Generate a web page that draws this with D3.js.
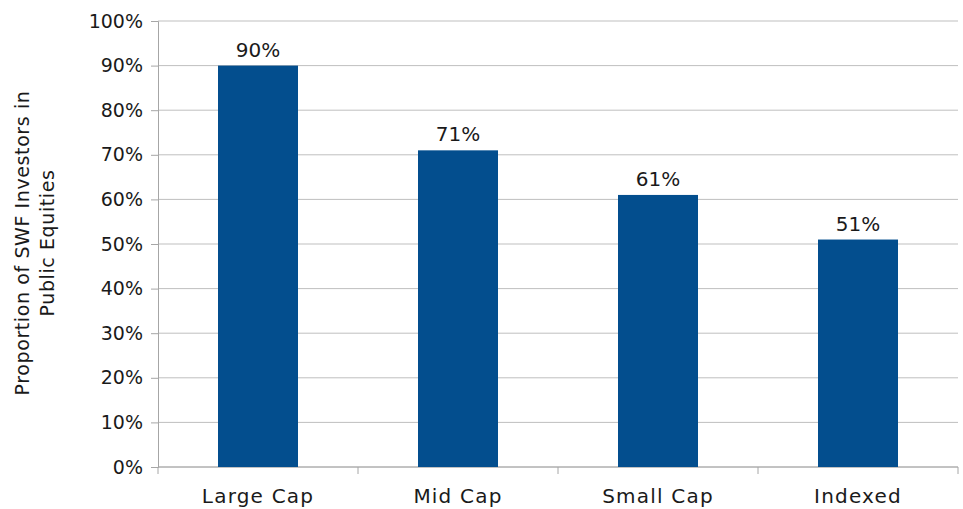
<!DOCTYPE html>
<html>
<head>
<meta charset="utf-8">
<script src="https://cdn.jsdelivr.net/npm/d3@7"></script>
<style>
  body { margin: 0; background: #fff; }
  text { font-family: "DejaVu Sans", sans-serif; fill: #1a1a1a; }
</style>
</head>
<body>
<div id="chart"></div>
<script>
const categories = ["Large Cap", "Mid Cap", "Small Cap", "Indexed"];
const values = [0.90, 0.71, 0.61, 0.51];
const yTicks = [0, 0.1, 0.2, 0.3, 0.4, 0.5, 0.6, 0.7, 0.8, 0.9, 1.0];
const yLabelLines = ["Proportion of SWF Investors in", "Public Equities"];

const width = 963, height = 509;
const margin = { left: 158, right: 5, top: 21, bottom: 42 };
const innerW = 958 - margin.left;
const innerH = 467 - margin.top;

var svg = d3.select("#chart")
    .append("svg")
    .attr("width", width)
    .attr("height", height)
    .append("g")
    .attr("transform", "translate(" + margin.left + "," + margin.top + ")");

var xScale = d3.scaleBand()
    .domain(categories)
    .range([0, innerW])
    .paddingInner(0.6)
    .paddingOuter(0.3);

var yScale = d3.scaleLinear()
    .domain([0, 1])
    .range([innerH, 0]);

// gridlines + y axis
var yAxis = d3.axisLeft(yScale)
    .tickValues(yTicks)
    .tickFormat(d3.format(".0%"))
    .tickSize(7)
    .tickPadding(8);

svg.append("g")
    .attr("class", "grid")
    .selectAll("line")
    .data(yTicks)
    .enter().append("line")
    .attr("x1", 0)
    .attr("x2", innerW)
    .attr("y1", d => yScale(d))
    .attr("y2", d => yScale(d))
    .attr("stroke", "#bfbfbf")
    .attr("stroke-width", 1);

var gy = svg.append("g").call(yAxis);
gy.select(".domain").attr("stroke", "#a6a6a6");
gy.selectAll(".tick line").attr("stroke", "#a6a6a6");
gy.selectAll(".tick text").style("font-size", "19px").attr("fill", "#1a1a1a");

// x axis with boundary ticks
var gx = svg.append("g")
    .attr("transform", "translate(0," + innerH + ")");
gx.append("line")
    .attr("x1", 0).attr("x2", innerW)
    .attr("stroke", "#a6a6a6");
var step = xScale.step();
var bounds = d3.range(categories.length + 1).map(i => xScale(categories[0]) - xScale.paddingOuter() * step + i * step);
gx.selectAll(".xt")
    .data(bounds)
    .enter().append("line")
    .attr("x1", d => d).attr("x2", d => d)
    .attr("y1", 0).attr("y2", 7)
    .attr("stroke", "#a6a6a6");
gx.selectAll(".xl")
    .data(categories)
    .enter().append("text")
    .attr("x", d => xScale(d) + xScale.bandwidth() / 2)
    .attr("y", 36)
    .attr("text-anchor", "middle")
    .style("font-size", "20px")
    .style("letter-spacing", "1.2px")
    .text(d => d);

// bars
svg.selectAll(".bar")
    .data(values)
    .enter().append("rect")
    .attr("x", (d, i) => xScale(categories[i]))
    .attr("y", d => yScale(d))
    .attr("width", xScale.bandwidth())
    .attr("height", d => innerH - yScale(d))
    .attr("fill", "#034e8e");

// value labels
svg.selectAll(".lbl")
    .data(values)
    .enter().append("text")
    .attr("x", (d, i) => xScale(categories[i]) + xScale.bandwidth() / 2)
    .attr("y", d => yScale(d) - 9)
    .attr("text-anchor", "middle")
    .style("font-size", "20px")
    .text(d => d3.format(".0%")(d));

// y axis title
var title = d3.select("#chart svg").append("text")
    .attr("transform", "translate(29,243) rotate(-90)")
    .attr("text-anchor", "middle")
    .style("font-size", "19px")
    .style("letter-spacing", "0.6px");
title.selectAll("tspan")
    .data(yLabelLines)
    .enter().append("tspan")
    .attr("x", 0)
    .attr("dy", (d, i) => i === 0 ? 0 : 25)
    .text(d => d);
</script>
</body>
</html>
